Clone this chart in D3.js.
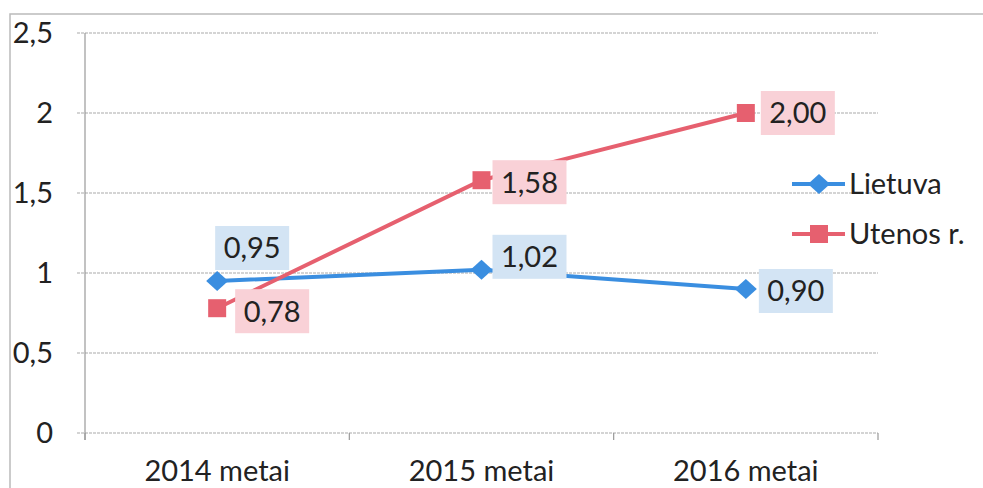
<!DOCTYPE html>
<html>
<head>
<meta charset="utf-8">
<script src="https://cdn.jsdelivr.net/npm/d3@7"></script>
<style>
  body { margin: 0; background: #fff; }
  text { font-family: Lato, "Open Sans", sans-serif; fill: #222; }
</style>
</head>
<body>
<div id="chart"></div>
<script>
// values
const years = ["2014 metai", "2015 metai", "2016 metai"];
const lietuva = [0.95, 1.02, 0.90];
const utenos = [0.78, 1.58, 2.00];
const yTicks = [0, 0.5, 1, 1.5, 2, 2.5];

let svgW = 983;
let svgH = 488;

let margin = { left: 85, right: 105, top: 33, bottom: 55 };
let chartW = svgW - margin.left - margin.right;
let chartH = svgH - margin.top - margin.bottom;

const fmt = v => d3.format(".2f")(v).replace(".", ",");
const tickFmt = v => String(v).replace(".", ",");

// wide diamond like the spreadsheet marker
const diamond = "M0,-10L11,0L0,10L-11,0Z";
const square = "M-9,-9H9V9H-9Z";

let svg = d3.select("#chart").append("svg")
  .attr("width", svgW)
  .attr("height", svgH);

// outer frame (scan edge)
svg.append("path")
  .attr("d", `M10,${svgH} V14 H${svgW}`)
  .attr("fill", "none")
  .attr("stroke", "#bbb")
  .attr("stroke-width", 1.5);

let g = svg.append("g")
  .attr("transform", `translate(${margin.left},${margin.top})`);

let x = d3.scaleBand().domain(years).range([0, chartW]);
let y = d3.scaleLinear().domain([0, 2.5]).range([chartH, 0]);
let cx = d => x(d) + x.bandwidth() / 2;

// gridlines
g.selectAll(".grid").data(yTicks).enter().append("line")
  .attr("x1", -8).attr("x2", chartW)
  .attr("y1", d => y(d)).attr("y2", d => y(d))
  .attr("stroke", "#aaa")
  .attr("stroke-width", 1.2)
  .attr("stroke-dasharray", "3,1");

// y axis
g.append("line")
  .attr("x1", 0).attr("x2", 0)
  .attr("y1", 0).attr("y2", chartH + 7)
  .attr("stroke", "#999").attr("stroke-width", 1.2);

g.selectAll(".ylab").data(yTicks).enter().append("text")
  .attr("x", -32).attr("y", d => y(d))
  .attr("dy", "0.36em")
  .attr("text-anchor", "end")
  .attr("font-size", 29)
  .text(tickFmt);

// x ticks at band boundaries
let bounds = years.map(d => x(d)).concat([chartW]);
g.selectAll(".xtick").data(bounds).enter().append("line")
  .attr("x1", d => d).attr("x2", d => d)
  .attr("y1", chartH).attr("y2", chartH + 7)
  .attr("stroke", "#999").attr("stroke-width", 1.2);

g.selectAll(".xlab").data(years).enter().append("text")
  .attr("x", cx).attr("y", chartH + 48)
  .attr("text-anchor", "middle")
  .attr("font-size", 29)
  .text(d => d);

const series = [
  { name: "Lietuva", values: lietuva, color: "#3a8ee0", bg: "#d3e4f4", shape: diamond,
    offsets: [[35, -33], [48, -13], [50, 2]] },
  { name: "Utenos r.", values: utenos, color: "#e6606f", bg: "#f9d1d7", shape: square,
    offsets: [[55, 3], [48, 2], [52, 0]] }
];

let line = d3.line()
  .x((d, i) => cx(years[i]))
  .y(d => y(d));

series.forEach(s => {
  g.append("path")
    .datum(s.values)
    .attr("d", line)
    .attr("fill", "none")
    .attr("stroke", s.color)
    .attr("stroke-width", 4);
});

series.forEach(s => {
  g.selectAll(null).data(s.values).enter().append("path")
    .attr("d", s.shape)
    .attr("transform", (d, i) => `translate(${cx(years[i])},${y(d)})`)
    .attr("fill", s.color);

  s.values.forEach((v, i) => {
    let px = cx(years[i]) + s.offsets[i][0];
    let py = y(v) + s.offsets[i][1];
    g.append("rect")
      .attr("x", px - 37).attr("y", py - 22)
      .attr("width", 74).attr("height", 44)
      .attr("fill", s.bg);
    g.append("text")
      .attr("x", px).attr("y", py)
      .attr("dy", "0.36em")
      .attr("text-anchor", "middle")
      .attr("font-size", 29)
      .text(fmt(v));
  });
});

// legend
let legend = svg.append("g").attr("transform", "translate(792,184)");
series.forEach((s, i) => {
  let lg = legend.append("g").attr("transform", `translate(0,${i * 50})`);
  lg.append("line")
    .attr("x1", 0).attr("x2", 53)
    .attr("stroke", s.color).attr("stroke-width", 4);
  lg.append("path")
    .attr("d", s.shape)
    .attr("transform", "translate(27,0)")
    .attr("fill", s.color);
  lg.append("text")
    .attr("x", 57).attr("dy", "0.36em")
    .attr("font-size", 29)
    .text(s.name);
});
</script>
</body>
</html>
